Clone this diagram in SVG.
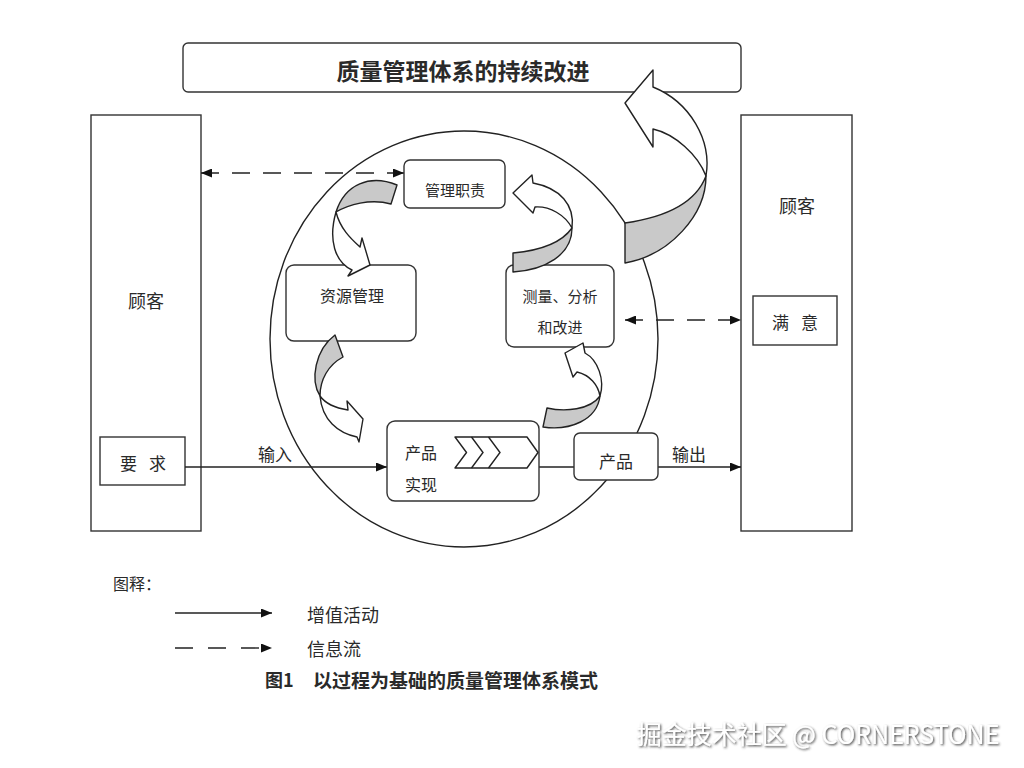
<svg xmlns="http://www.w3.org/2000/svg" width="1024" height="768" viewBox="0 0 1024 768">
<style>
.box{fill:#fff;stroke:#333;stroke-width:1.4}
.ln{fill:none;stroke:#222;stroke-width:1.4}
.dash{fill:none;stroke:#222;stroke-width:1.4;stroke-dasharray:18 13}
.gray{fill:#c9c9c9;stroke:#222;stroke-width:1.4;stroke-linejoin:round}
.wh{fill:#fff;stroke:#222;stroke-width:1.4;stroke-linejoin:round}
.t{font-family:"Noto Sans CJK SC","Noto Sans",sans-serif;fill:#2a2a2a;text-anchor:middle;dominant-baseline:central}
.ts{font-family:"Noto Sans CJK SC","Noto Sans",sans-serif;fill:#2a2a2a;dominant-baseline:central}
</style>
<defs>
<marker id="arr" markerUnits="userSpaceOnUse" markerWidth="12" markerHeight="9" refX="11" refY="4.5" orient="auto-start-reverse">
<path d="M0,0 L11,4.5 L0,9 Z" fill="#111"/>
</marker>
<filter id="sh" x="-5%" y="-30%" width="110%" height="160%">
<feDropShadow dx="1.2" dy="1.2" stdDeviation="0.9" flood-color="#333" flood-opacity="0.9"/>
</filter>
</defs>
<rect width="1024" height="768" fill="#fff"/>

<g id="circle"><ellipse cx="464" cy="339" rx="194" ry="208" class="ln"/></g>

<g id="banner">
<rect x="183" y="43" width="558" height="49" rx="5" class="box"/>
<text x="463" y="70" class="t" font-size="23" font-weight="bold">质量管理体系的持续改进</text>
</g>

<g id="customer-left">
<rect x="91" y="115" width="110" height="416" class="box"/>
<text x="146" y="300" class="t" font-size="18">顾客</text>
</g>
<g id="req">
<rect x="100" y="437" width="85" height="48" class="box"/>
<text x="145" y="462" class="t" font-size="17" letter-spacing="4">要 求</text>
</g>

<g id="customer-right">
<rect x="741" y="115" width="111" height="416" class="box"/>
<text x="797" y="205" class="t" font-size="18">顾客</text>
</g>
<g id="satisfy">
<rect x="753" y="296" width="84" height="49" class="box"/>
<text x="797" y="321" class="t" font-size="17" letter-spacing="4">满 意</text>
</g>

<g id="connectors">
<line x1="201" y1="173" x2="404" y2="173" class="dash" marker-start="url(#arr)" marker-end="url(#arr)"/>
<line x1="625" y1="320" x2="741" y2="320" class="dash" marker-start="url(#arr)" marker-end="url(#arr)"/>
<line x1="185" y1="467" x2="387" y2="467" class="ln" marker-end="url(#arr)"/>
<line x1="539" y1="467" x2="574" y2="467" class="ln"/>
<line x1="658" y1="467" x2="741" y2="467" class="ln" marker-end="url(#arr)"/>
<text x="275" y="453" class="t" font-size="17">输入</text>
<text x="689" y="453" class="t" font-size="17">输出</text>
</g>

<g id="mgmt">
<rect x="404" y="160" width="101" height="48" rx="6" class="box"/>
<text x="455" y="189" class="t" font-size="15">管理职责</text>
</g>
<g id="resource">
<rect x="286" y="265" width="130" height="76" rx="8" class="box"/>
<text x="352" y="295" class="t" font-size="16">资源管理</text>
</g>
<g id="measure">
<rect x="506" y="265" width="108" height="82" rx="8" class="box"/>
<text x="560" y="295" class="t" font-size="15">测量、分析</text>
<text x="560" y="326" class="t" font-size="15">和改进</text>
</g>
<g id="realize">
<rect x="387" y="421" width="152" height="80" rx="8" class="box"/>
<text x="421" y="452" class="t" font-size="16">产品</text>
<text x="421" y="484" class="t" font-size="16">实现</text>
<path d="M455,437 L527,437 L538,452.5 L527,468 L455,468 L466.5,452.5 Z" class="wh"/>
<path d="M471.5,437 L483,452.5 L471.5,468 M488.5,437 L500,452.5 L488.5,468" class="ln"/>
</g>
<g id="product">
<rect x="574" y="433" width="84" height="47" rx="6" class="box"/>
<text x="616" y="460" class="t" font-size="17">产品</text>
</g>

<g id="cycle-arrows">
<path d="M397,185 C370,174 345,184 336,212 C348,205 370,198 391,204 Z" class="gray"/>
<path d="M336,212 C328,240 335,262 352,270 L348,276 L370,265 L362,238 L360,247 C350,238 340,228 336,212 Z" class="wh"/>
<path d="M335,335 C315,350 310,380 320,396 C320,380 328,365 343,357 Z" class="gray"/>
<path d="M320,396 C322,420 338,433 357,437 L359,442 L363,419 L347,401 L348,410 C335,408 325,403 320,396 Z" class="wh"/>
<path d="M600,396 C597,420 570,431 543,427 L547,408 C565,412 590,410 600,396 Z" class="gray"/>
<path d="M600,396 C605,380 598,360 585,353 L583,343 L565,353 L573,377 L577,372 C590,375 598,385 600,396 Z" class="wh"/>
<path d="M572,228 C572,255 545,270 513,272 L513,253 C535,251 560,245 572,228 Z" class="gray"/>
<path d="M572,228 C575,205 560,188 533,183 L532,175 L513,193 L533,213 L535,207 C550,206 565,215 572,228 Z" class="wh"/>
</g>

<g id="improve-arrow">
<path d="M706,176 C706,215 670,255 625,263 L625,223 C660,218 695,205 706,176 Z" class="gray"/>
<path d="M706,176 C712,140 690,102 653,87 L653,70 L625,103 L653,147 L653,129 C675,134 698,155 706,176 Z" class="wh"/>
</g>

<g id="legend">
<text x="113" y="583" class="ts" font-size="16">图释：</text>
<line x1="175" y1="613" x2="272" y2="613" class="ln" marker-end="url(#arr)"/>
<text x="307" y="614" class="ts" font-size="18">增值活动</text>
<line x1="175" y1="648" x2="272" y2="648" class="ln" stroke-dasharray="18 15" marker-end="url(#arr)"/>
<text x="307" y="648" class="ts" font-size="18">信息流</text>
<text x="265" y="679" class="ts" font-size="18" font-weight="bold">图1</text>
<text x="313" y="679" class="ts" font-size="19" font-weight="bold">以过程为基础的质量管理体系模式</text>
</g>

<g id="watermark">
<text x="818" y="733" class="t" font-size="25" style="fill:#fff" filter="url(#sh)">掘金技术社区 @ CORNERSTONE</text>
</g>
</svg>
